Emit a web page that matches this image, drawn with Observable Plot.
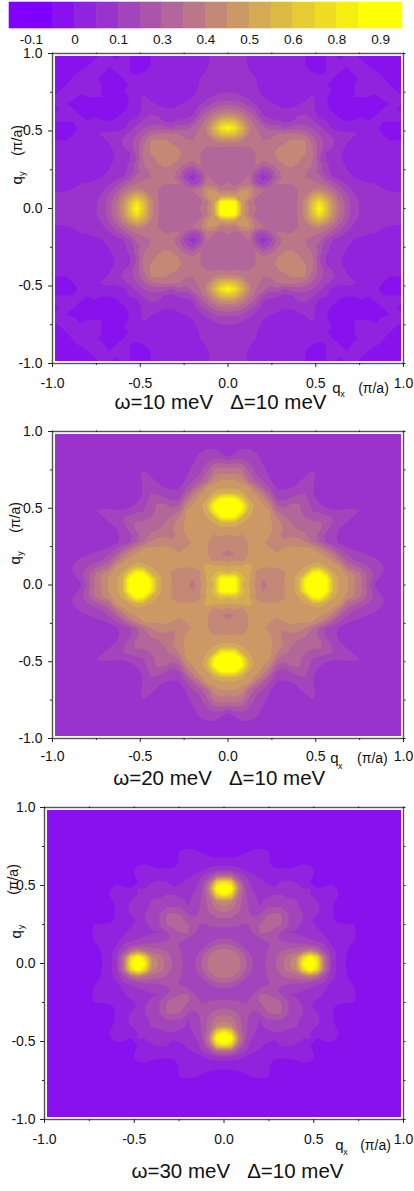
<!DOCTYPE html>
<html><head><meta charset="utf-8">
<script src="https://cdn.jsdelivr.net/npm/d3@7"></script>
<script src="https://cdn.jsdelivr.net/npm/@observablehq/plot@0.6"></script>
<style>html,body{margin:0;padding:0;background:#fff}svg{position:absolute;left:0;display:block}#root{position:relative;width:414px;height:1191px;overflow:hidden}</style>
</head><body><div id="root"></div>
<script>
// contour levels (legend band number; band n runs from (n-2)/15 to (n-1)/15 in intensity)
const levels=[0,1,2,3,4,5,6,7,8,9,10,11,12,13,14,15];
const bandColors=["#8000ff","#8811ee","#9122dd","#9933cc","#a244bb","#aa55aa","#b36699","#bb7788","#c48877","#cc9966","#d5aa55","#ddbb44","#e6cc33","#eedd22","#f7ee11","#ffff00"];
const legendEdges=[-0.2,-0.0667,0,0.0667,0.1333,0.2,0.2667,0.3333,0.4,0.4667,0.5333,0.6,0.6667,0.7333,0.8,0.8667,1];
const legendTickValues=[-0.1333,0,0.1333,0.2667,0.4,0.5333,0.6667,0.8,0.9333];
const legendTickLabels=["-0.1","0","0.1","0.3","0.4","0.5","0.6","0.8","0.9"];
const majorTicks=[-1,-0.5,0,0.5,1];
const minorTicks=[-0.75,-0.25,0.25,0.75];
// one octant of each map: row r is qy=0.04r, its entries run from qx=qy to qx=1 in steps of 0.04
const map10=[
[17,16,10,8,7.2,6.2,6.3,6.3,6.1,6.4,7,8.5,12,15.5,12,9,7,5.5,4.3,3.9,3.6,3.5,3.4,3.4,3.3,3.3],
[15.5,9.5,7.6,6.6,6.3,6.3,6.3,6.3,6.5,7.1,8.5,11.5,14,11.5,8.7,6.8,5.4,4.2,3.9,3.6,3.5,3.4,3.4,3.3,3.3],
[9.5,9,7.2,6.3,6.2,6.2,6.3,6.6,7,8,10,11,9.5,7.8,6.3,5.1,4.1,3.7,3.5,3.4,3.3,3.2,3.2,3.2],
[9,7.6,7.2,6.4,6.2,6.4,6.7,7,7.5,8,8.3,7.6,6.5,5.5,4.4,3.8,3.4,3.2,3.1,3.05,2.95,2.9,2.9],
[5.2,4.6,5.8,7.1,7.1,7,7,7.1,7.2,7,6.4,5.5,4.6,3.8,3.4,3.2,3.1,3,2.85,2.6,2.5,2.5,2.5],
[3.4,4.4,6.2,7.4,7.5,7.2,7,6.8,6.5,5,4,3.5,3.2,3,2.8,2.5,2.4,2.3,2.3,2.3,2.3],
[5.2,6.6,7.7,7.8,7.5,7.1,6.6,5.5,4.3,3.7,3.3,3.05,2.8,2.4,2.3,2.2,2.2,2.2,2.2,2.2],
[7.6,8,8.1,7.9,7.2,7,5.8,4.2,3.6,3.2,2.9,2.4,2.2,2.1,2.1,2.1,2.1,2.1,2.1],
[8.3,8.5,8.2,7.6,7.2,5,3.9,3.4,3.1,2.6,2.3,2.1,2.1,2,2,2,2,2],
[8.7,8.5,8.1,7.3,5.5,3.9,3.6,3.1,2.6,2.3,2.2,2.1,2.1,2.1,2.1,2.1,2.1],
[8.5,8.1,7,5.6,4.6,4,3.3,2.9,2.5,2.3,2.2,2.1,2,2,2,2],
[8,6.6,5.4,4.6,4.1,3.5,3.1,2.8,2.5,2.3,2.2,2.1,2,2,2],
[5.8,5,4.3,3.6,3.3,3.2,3.1,2.8,2.4,2.2,2,1.9,1.9,1.9],
[4.5,3.3,2.8,2.6,2.6,2.7,3,2.4,2.1,1.9,1.8,1.7,1.7],
[3.1,2.6,2.2,2.1,2.1,2.3,2.1,2,2,2,2,2],
[2.2,1.8,1.5,1.7,1.9,1.6,2,2,2,2,2],
[1.4,1.3,1.5,1.8,1.9,1.9,2,2,2,1.9],
[1.4,1.7,1.9,1.8,1.6,1.9,2,2,2],
[2,2,2,1.9,2.1,2.1,2.1,2],
[2.1,2.1,2.1,2.1,2.1,2,1.8],
[2.1,2.1,2.1,2,1.8,1.6],
[2.1,2.05,1.8,1.6,1.5],
[1.9,1.6,1.5,1.5],
[1.5,1.5,1.5],
[2.05,1.8],
[2.1]];
const map20=[
[17,16,11,10,8.5,7.7,8.2,8.6,8.9,9.5,10.5,15,18,18,16,11,9.6,9.1,8,7,5.5,3.8],
[15.5,11.5,10.2,9,8,8.4,8.7,9,9.6,10.5,14.5,17,17.5,15.5,11,9.6,9.1,8.2,7.2,5.8,4.4,3.6],
[10.8,10.2,8.7,8.4,8.4,8.5,8.9,9.4,10,11,14.6,15.4,12.5,10.2,9.5,8.6,7.8,6.8,5.6,4.7,4.1],
[10.4,9.6,9.1,9.1,9.1,9.2,9.3,9.5,10,10.5,11,10,9.4,9,6.8,6.2,5.6,5,4.6,4.1],
[9.7,9.1,9,9,9.1,9.2,9.3,9.4,9.5,9.6,9.4,8.8,7.2,5.8,5,4.7,4.4,4.2,3.8],
[9.2,9.1,9.1,9.1,9.2,9.2,9.3,9.3,9.1,8.6,7.4,5.8,5,4.6,4.2,3.9,3.7],
[9,8.6,9,9.1,9.1,9.2,9,8.2,7,5.7,4.9,4.1,3.8,3.6],
[8.3,8.3,8.8,8.6,8,7,6,4.9,4.3,3.8,3.6],
[7.6,7.8,7.7,7.2,6.6,5.6,4.7,4.2,3.8],
[7,7,6.8,6.9,6.2,5.2,4.5,3.9,3.6],
[6.6,6.4,6.3,6.2,5.7,4.8,4.2,3.9,3.6],
[6,5.6,5.5,5.3,5,4.5,4.2,3.9,3.6],
[5,4.8,4.4,4.1,4.1,4.2,4.2,3.9],
[4.2,3.7,3.6,3.6,3.6,3.8,4]];
const map30=[
[7.9,7.8,7.4,6.2,5,4.5,5.2,5.8,6.7,7.9,8.7,15,17,14.5,7,3.8,2.5,2],
[7.8,7.2,6,4.9,4.5,5.1,5.7,6.5,7.5,8.3,13,16,13,7,3.8,2.5,2],
[6.6,5.2,4.6,4.4,5,5.6,6,6.4,6.6,7.2,8.4,7,5,3.4,2.6,2.1,1.6],
[4.6,4.3,4.3,4.8,5.3,5.3,5.3,5.2,5.2,5,4.6,4.1,2.9,2.5,2.2,1.9],
[4.6,5,5.2,5.2,4.8,4.5,4.3,4.2,3.9,3.5,3.1,2.8,2.5,2.3,2.1,1.7],
[6.1,6.1,5.6,4.9,4,3.9,3.7,3.5,3.2,2.9,2.5,2.3,2.2,2.1,1.8],
[6.4,6.3,5.9,5,4.2,3.8,3.3,2.9,2.5,2.2,2.1,2.1,2.1,1.7],
[6.3,6.1,5,4.3,4,3.1,2.7,2.3,2.05,1.9,1.8,1.7],
[6,5,4.4,4,3.3,3.1,2.6,2.1,1.7],
[4.7,4.2,3.8,3.4,3.15,2.7,2.1,1.7],
[4.1,3.6,3.3,3,2.6,2.2,1.8],
[3.7,3,2.6,2.4,2.2,2],
[3,2,2.2,2.3,1.9],
[1.9,1.7,1.8,1.6]];
const panels=[
 {map:map10,bg:2,title:"ω=10 meV",top:43,height:379,ft:53,fb:363,left:52,padX:10.5,padY:6,titleX:-0.043,titleDy:39,
  qx:[0.618,25],subx:[0.652,31],parx:[0.829,25],qy:[0.155,-35],suby:[0.21,-30],pary:[0.34,-35]},
 {map:map20,bg:3.5,title:"ω=20 meV",top:422,height:372,ft:431,fb:738,left:52,padX:9,padY:6,titleX:-0.05,titleDy:40,
  qx:[0.607,20],subx:[0.64,28],parx:[0.823,20],qy:[0.133,-37],suby:[0.19,-32],pary:[0.34,-37]},
 {map:map30,bg:1.5,title:"ω=30 meV",top:788,height:403,ft:807,fb:1119,left:44,padX:11,padY:5,titleX:0.075,titleDy:52,
  qx:[0.643,26],subx:[0.677,33],parx:[0.844,26],qy:[0.16,-28],suby:[0.22,-23],pary:[0.44,-31]}
];
const N=51;
function expand(map,bg){
  const out=[];
  for(let iy=0;iy<N;iy++)for(let ix=0;ix<N;ix++){
    const a=Math.abs(ix-25),b=Math.abs(iy-25),r=Math.min(a,b),c=Math.max(a,b);
    const row=map[r];
    const v=row?row[c-r]:undefined;
    out.push(v===undefined?bg:v);
  }
  return out;
}
const root=document.getElementById("root");
const font="'Liberation Sans',Arial,sans-serif";
const ink="#111";
// legend
const legendCells=levels.map((l,i)=>({x1:legendEdges[i],x2:legendEdges[i+1],band:l}));
const legend=Plot.plot({width:414,height:45,marginLeft:9,marginRight:12,marginTop:2,marginBottom:17,
  style:{fontFamily:font,background:"transparent"},
  x:{domain:[-0.2,1],axis:null},
  color:{type:"ordinal",domain:levels,range:bandColors},
  marks:[
   Plot.rect(legendCells,{x1:"x1",x2:"x2",fill:"band",stroke:"band",strokeWidth:0.6}),
   Plot.text(legendTickLabels,{x:(d,i)=>legendTickValues[i],text:d=>d,frameAnchor:"bottom",dy:15,fontSize:13.5,fill:ink})
  ]});
legend.style.top="0px";root.appendChild(legend);
panels.forEach(p=>{
  const fmt=d=>d.toFixed(1);
  const all=majorTicks.concat(minorTicks);
  const bottomText=(s,pos,size)=>Plot.text([s],{x:pos[0],y:-1,text:d=>d,dy:pos[1],fontSize:size,fill:ink});
  const leftText=(s,pos,size)=>Plot.text([s],{frameAnchor:"left",y:pos[0],text:d=>d,dx:pos[1],rotate:-90,fontSize:size,fill:ink});
  const chart=Plot.plot({width:414,height:p.height,marginLeft:p.left,marginRight:11,marginTop:p.ft-p.top,marginBottom:p.top+p.height-p.fb,
   style:{fontFamily:font,background:"transparent"},
   x:{domain:[-1,1],axis:null},y:{domain:[-1,1],axis:null},
   color:{type:"ordinal",domain:levels,range:bandColors},
   marks:[
    Plot.contour(expand(p.map,p.bg),{width:N,height:N,x1:-1.02,x2:1.02,y1:-1.02,y2:1.02,fill:Plot.identity,thresholds:levels,clip:true,imageFilter:"blur(0.5px)"}),
    Plot.frame({stroke:"#fff",strokeWidth:5}),
    Plot.frame({stroke:"#555",strokeWidth:1.4}),
    Plot.axisX({anchor:"bottom",ticks:majorTicks,tickFormat:fmt,tickSize:4,tickPadding:p.padX,fontSize:14,label:null,fill:ink,stroke:"#222"}),
    Plot.axisX({anchor:"bottom",ticks:minorTicks,tickFormat:()=>"",tickSize:2,label:null,stroke:"#222"}),
    Plot.axisY({anchor:"left",ticks:majorTicks,tickFormat:fmt,tickSize:4,tickPadding:p.padY,fontSize:14,label:null,fill:ink,stroke:"#222"}),
    Plot.axisY({anchor:"left",ticks:minorTicks,tickFormat:()=>"",tickSize:2,label:null,stroke:"#222"}),
    Plot.axisX({anchor:"top",ticks:all,tickFormat:()=>"",tickSize:1.5,label:null,stroke:"#222"}),
    Plot.axisY({anchor:"right",ticks:all,tickFormat:()=>"",tickSize:1.5,label:null,stroke:"#222"}),
    Plot.text([p.title+"\u00a0\u00a0\u00a0Δ=10 meV"],{x:p.titleX,y:-1,text:d=>d,dy:p.titleDy,fontSize:20.5,fill:ink}),
    bottomText("q",p.qx,15),bottomText("x",p.subx,9),bottomText("(π/a)",p.parx,14),
    leftText("q",p.qy,15),leftText("y",p.suby,9),leftText("(π/a)",p.pary,14)
   ]});
  chart.style.top=p.top+"px";root.appendChild(chart);
});
</script></body></html>
